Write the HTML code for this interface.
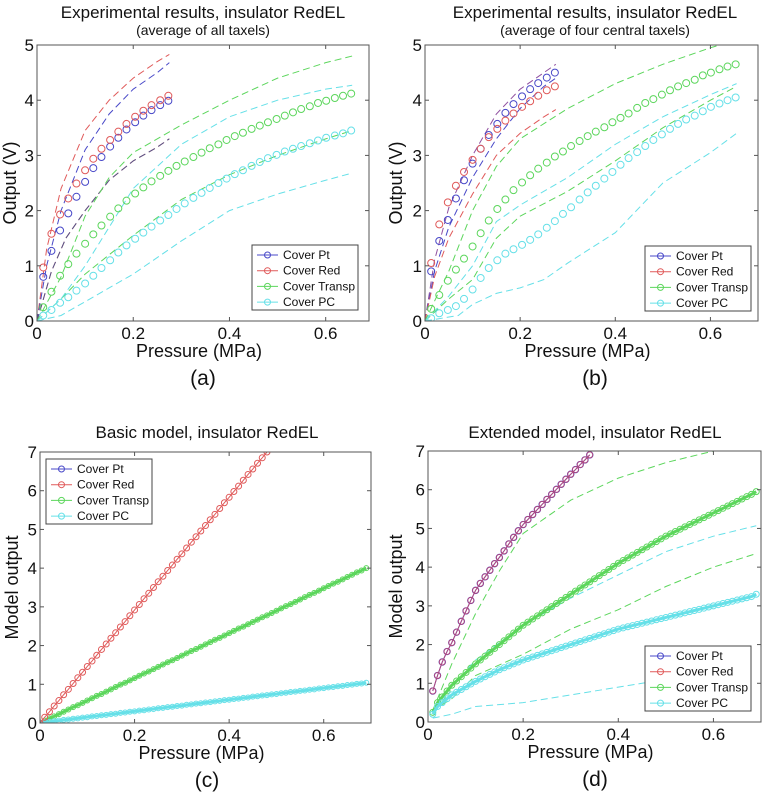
<!DOCTYPE html>
<html><head><meta charset="utf-8"><style>
body{margin:0;background:#fff;}
svg{display:block;font-family:"Liberation Sans",sans-serif;}
</style></head><body>
<svg id="fig" width="763" height="797" viewBox="0 0 763 797"></svg>
<script>
// ---------- data ----------
const abX = [0.013,0.03,0.048,0.065,0.082,0.1,0.117,0.134,0.152,0.169,0.186,0.204,0.221,0.238,0.256,0.273];
const abXLong = [0.013,0.03,0.048,0.065,0.082,0.1,0.117,0.134,0.152,0.169,0.186,0.204,0.221,0.238,0.256,0.273,0.29,0.307,0.325,0.342,0.359,0.377,0.394,0.411,0.428,0.446,0.463,0.48,0.498,0.515,0.532,0.549,0.567,0.584,0.601,0.619,0.636,0.653];
// panel a
const aPt = [0.8,1.27,1.64,1.95,2.25,2.52,2.77,2.97,3.16,3.32,3.47,3.6,3.72,3.82,3.91,3.99];
const aRed = [0.97,1.58,1.93,2.22,2.49,2.73,2.94,3.12,3.28,3.43,3.57,3.7,3.81,3.91,4.0,4.08];
const aGreen = [0.25,0.53,0.82,1.03,1.22,1.4,1.57,1.73,1.89,2.04,2.18,2.31,2.42,2.53,2.63,2.72,2.81,2.89,2.97,3.05,3.13,3.2,3.28,3.35,3.41,3.48,3.54,3.6,3.66,3.72,3.78,3.84,3.89,3.95,3.99,4.04,4.08,4.12];
const aCyan = [0.1,0.2,0.33,0.43,0.55,0.68,0.82,0.96,1.1,1.24,1.37,1.49,1.6,1.71,1.82,1.92,2.03,2.13,2.23,2.32,2.41,2.5,2.58,2.66,2.73,2.81,2.88,2.95,3.01,3.07,3.12,3.17,3.22,3.27,3.32,3.36,3.4,3.45];
const aDashRed = [[0,0],[0.02,1.3],[0.05,2.4],[0.1,3.45],[0.15,4.0],[0.2,4.4],[0.25,4.7],[0.275,4.83]];
const aDashBlue = [[0,0],[0.02,1.0],[0.05,2.0],[0.1,3.1],[0.15,3.75],[0.2,4.2],[0.25,4.5],[0.275,4.68]];
const aDashLow = [[0,0],[0.03,0.9],[0.06,1.5],[0.1,2.0],[0.15,2.55],[0.2,2.9],[0.25,3.15],[0.275,3.3]];
const aDashGreenUp = [[0,0],[0.05,0.8],[0.1,1.9],[0.15,2.6],[0.2,3.05],[0.3,3.55],[0.4,4.0],[0.5,4.4],[0.6,4.68],[0.655,4.8]];
const aDashGreenLo = [[0,0],[0.05,0.4],[0.1,0.85],[0.2,1.55],[0.3,2.2],[0.4,2.65],[0.5,3.0],[0.6,3.3],[0.655,3.45]];
const aDashCyanUp = [[0,0],[0.05,0.4],[0.1,1.0],[0.15,1.7],[0.2,2.4],[0.3,3.2],[0.4,3.7],[0.5,4.0],[0.6,4.2],[0.655,4.27]];
const aDashCyanLo = [[0,0],[0.05,0.1],[0.1,0.35],[0.2,0.85],[0.3,1.45],[0.4,2.0],[0.5,2.3],[0.6,2.55],[0.655,2.68]];
// panel b
const bPt = [0.9,1.45,1.83,2.22,2.55,2.85,3.12,3.37,3.57,3.77,3.93,4.07,4.2,4.31,4.41,4.5];
const bRed = [1.05,1.75,2.15,2.45,2.7,2.92,3.12,3.33,3.48,3.63,3.76,3.88,3.98,4.08,4.18,4.25];
const bGreen = [0.22,0.47,0.73,0.93,1.13,1.35,1.59,1.82,2.03,2.2,2.37,2.51,2.64,2.76,2.87,2.98,3.07,3.17,3.26,3.35,3.43,3.51,3.6,3.68,3.76,3.86,3.95,4.02,4.1,4.18,4.25,4.31,4.37,4.45,4.5,4.56,4.61,4.65];
const bCyan = [0.05,0.14,0.2,0.27,0.4,0.57,0.78,0.96,1.1,1.22,1.3,1.38,1.47,1.57,1.69,1.81,1.94,2.06,2.2,2.33,2.45,2.58,2.7,2.83,2.95,3.06,3.17,3.28,3.38,3.48,3.57,3.65,3.72,3.8,3.88,3.94,4.0,4.05];
const bDashPurple = [[0,0],[0.02,1.1],[0.05,2.05],[0.1,3.0],[0.15,3.75],[0.2,4.2],[0.25,4.5],[0.275,4.65]];
const bDashBlue = [[0,0],[0.02,0.9],[0.05,1.7],[0.1,2.6],[0.15,3.3],[0.2,3.85],[0.25,4.25],[0.275,4.4]];
const bDashRed = [[0,0],[0.02,0.8],[0.05,1.5],[0.1,2.3],[0.15,3.0],[0.2,3.4],[0.25,3.7],[0.275,3.83]];
const bDashGreenUp = [[0,0],[0.05,0.9],[0.1,2.0],[0.15,2.8],[0.2,3.3],[0.3,3.85],[0.4,4.3],[0.5,4.65],[0.6,4.95],[0.62,5.0]];
const bDashGreenLo = [[0,0],[0.05,0.4],[0.1,0.75],[0.15,1.5],[0.2,1.9],[0.3,2.35],[0.4,2.9],[0.5,3.5],[0.6,4.0],[0.655,4.25]];
const bDashCyanUp = [[0,0],[0.05,0.45],[0.1,1.0],[0.15,1.8],[0.2,2.1],[0.3,2.6],[0.4,3.2],[0.5,3.7],[0.6,4.1],[0.655,4.3]];
const bDashCyanLo = [[0,0],[0.07,0.1],[0.1,0.3],[0.15,0.5],[0.2,0.6],[0.25,0.75],[0.3,1.05],[0.4,1.6],[0.5,2.5],[0.6,3.05],[0.655,3.4]];
// panel c
const cX = [0,0.01,0.02,0.03,0.04,0.05,0.06,0.07,0.08,0.09,0.1,0.11,0.12,0.13,0.14,0.15,0.16,0.17,0.18,0.19,0.2,0.21,0.22,0.23,0.24,0.25,0.26,0.27,0.28,0.29,0.3,0.31,0.32,0.33,0.34,0.35,0.36,0.37,0.38,0.39,0.4,0.41,0.42,0.43,0.44,0.45,0.46,0.47,0.48,0.49,0.5,0.51,0.52,0.53,0.54,0.55,0.56,0.57,0.58,0.59,0.6,0.61,0.62,0.63,0.64,0.65,0.66,0.67,0.68,0.69];
const cRed = [0,0.15,0.29,0.44,0.58,0.73,0.87,1.02,1.17,1.31,1.46,1.6,1.75,1.9,2.04,2.19,2.33,2.48,2.62,2.77,2.92,3.06,3.21,3.35,3.5,3.65,3.79,3.94,4.08,4.23,4.37,4.52,4.67,4.81,4.96,5.1,5.25,5.39,5.54,5.69,5.83,5.98,6.12,6.27,6.42,6.56,6.71,6.85,7.0];
const cGreen = [0,0.06,0.12,0.17,0.23,0.29,0.35,0.41,0.46,0.52,0.58,0.64,0.7,0.75,0.81,0.87,0.93,0.99,1.04,1.1,1.16,1.22,1.28,1.33,1.39,1.45,1.51,1.57,1.62,1.68,1.74,1.8,1.86,1.91,1.97,2.03,2.09,2.15,2.2,2.26,2.32,2.38,2.44,2.49,2.55,2.61,2.67,2.73,2.78,2.84,2.9,2.96,3.02,3.07,3.13,3.19,3.25,3.31,3.36,3.42,3.48,3.54,3.6,3.65,3.71,3.77,3.83,3.89,3.94,4.0];
const cCyan = [0,0.02,0.03,0.05,0.06,0.08,0.09,0.11,0.12,0.14,0.15,0.17,0.18,0.2,0.21,0.23,0.24,0.26,0.27,0.29,0.3,0.32,0.33,0.35,0.36,0.38,0.39,0.41,0.42,0.44,0.45,0.47,0.48,0.5,0.51,0.53,0.54,0.56,0.57,0.59,0.6,0.62,0.63,0.65,0.66,0.68,0.69,0.71,0.72,0.74,0.75,0.77,0.78,0.8,0.81,0.83,0.84,0.86,0.87,0.89,0.9,0.92,0.93,0.95,0.96,0.98,0.99,1.01,1.02,1.04];
// panel d
const dX = [0.01,0.02,0.03,0.04,0.05,0.06,0.07,0.08,0.09,0.1,0.11,0.12,0.13,0.14,0.15,0.16,0.17,0.18,0.19,0.2,0.21,0.22,0.23,0.24,0.25,0.26,0.27,0.28,0.29,0.3,0.31,0.32,0.33,0.34,0.35,0.36,0.37,0.38,0.39,0.4,0.41,0.42,0.43,0.44,0.45,0.46,0.47,0.48,0.49,0.5,0.51,0.52,0.53,0.54,0.55,0.56,0.57,0.58,0.59,0.6,0.61,0.62,0.63,0.64,0.65,0.66,0.67,0.68,0.69];
const dRed = [0.8,1.2,1.55,1.82,2.05,2.32,2.6,2.87,3.14,3.4,3.58,3.75,3.92,4.09,4.25,4.42,4.6,4.77,4.94,5.1,5.23,5.36,5.49,5.62,5.75,5.88,6.01,6.14,6.27,6.4,6.52,6.65,6.77,6.9];
const dGreen = [0.25,0.5,0.65,0.8,0.95,1.06,1.17,1.28,1.39,1.5,1.6,1.7,1.8,1.9,2.0,2.1,2.2,2.3,2.4,2.5,2.58,2.66,2.74,2.82,2.9,2.98,3.06,3.14,3.22,3.3,3.38,3.46,3.54,3.62,3.7,3.78,3.86,3.94,4.02,4.1,4.17,4.24,4.31,4.38,4.45,4.52,4.59,4.66,4.73,4.8,4.86,4.92,4.98,5.04,5.1,5.16,5.22,5.28,5.34,5.4,5.46,5.52,5.58,5.64,5.7,5.76,5.82,5.88,5.95];
const dCyan = [0.2,0.4,0.5,0.6,0.7,0.77,0.84,0.91,0.98,1.05,1.11,1.17,1.23,1.29,1.35,1.4,1.45,1.5,1.55,1.6,1.64,1.68,1.72,1.76,1.8,1.84,1.88,1.92,1.96,2.0,2.04,2.08,2.12,2.16,2.2,2.24,2.28,2.32,2.36,2.4,2.43,2.46,2.49,2.52,2.55,2.58,2.61,2.64,2.67,2.7,2.73,2.76,2.79,2.82,2.85,2.88,2.91,2.94,2.97,3.0,3.03,3.06,3.09,3.12,3.15,3.18,3.21,3.24,3.3];
const dDashGreenUp = [[0.01,0.3],[0.05,1.5],[0.1,2.8],[0.15,3.9],[0.2,4.87],[0.3,5.73],[0.4,6.3],[0.5,6.7],[0.6,7.0]];
const dDashGreenLo = [[0.01,0.3],[0.05,0.6],[0.1,1.2],[0.2,1.75],[0.3,2.4],[0.4,2.9],[0.5,3.5],[0.6,4.0],[0.69,4.35]];
const dDashCyanUp = [[0.01,0.3],[0.05,0.9],[0.1,1.6],[0.2,2.5],[0.3,3.2],[0.4,3.8],[0.5,4.4],[0.6,4.8],[0.69,5.07]];
const dDashCyanLo = [[0.01,0.1],[0.05,0.2],[0.1,0.4],[0.2,0.5],[0.3,0.7],[0.4,0.9],[0.45,1.0],[0.5,1.1]];
const xTicks = [0,0.2,0.4,0.6];
const xTickLabels = ["0","0.2","0.4","0.6"];
const yTicksAB = [0,1,2,3,4,5];
const yTicksCD = [0,1,2,3,4,5,6,7];
const legendLabels = ["Cover Pt","Cover Red","Cover Transp","Cover PC"];
// ---------- rendering ----------
const BLUE="#4848c8", RED="#e05a5a", GREEN="#5cd65c", CYAN="#66e0e8";
const NS="http://www.w3.org/2000/svg";
const svg=document.getElementById('fig');
function mk(tag,attrs,parent){const e=document.createElementNS(NS,tag);for(const k in attrs)e.setAttribute(k,attrs[k]);(parent||svg).appendChild(e);return e;}
function panel(cfg){
  const g=mk('g',{});
  
  
  const sx=v=>cfg.x0+(v-0)/cfg.xmax*(cfg.x1-cfg.x0);
  const sy=v=>cfg.y0-(v/cfg.ymax)*(cfg.y0-cfg.y1);
  const clip='clip-'+cfg.name;
  const cp=mk('clipPath',{id:clip},g);mk('rect',{x:cfg.x0,y:cfg.y1,width:cfg.x1-cfg.x0,height:cfg.y0-cfg.y1},cp);
  const plot=mk('g',{'clip-path':'url(#'+clip+')'},g);
  
  
  cfg.dashes.forEach(d=>{
    const p=mk('polyline',{points:d.pts.map(q=>sx(q[0])+','+sy(q[1])).join(' '),fill:'none',stroke:d.c,'stroke-width':1,'stroke-dasharray':'7,4'},plot);
    
    
  });
  cfg.series.forEach(s=>{
    const sg=mk('g',{},plot);
    
    
    const pts=s.y.map((v,i)=>[sx(s.x[i]),sy(v)]);
    if(s.line) mk('polyline',{points:pts.map(p=>p.join(',')).join(' '),fill:'none',stroke:s.c,'stroke-width':s.lw||1},sg);
    pts.forEach(p=>{const c=mk('circle',{cx:p[0],cy:p[1],r:s.r||3.5,fill:'none',stroke:s.c,'stroke-width':1},sg);
      
      });
  });
  const frame=mk('rect',{x:cfg.x0,y:cfg.y1,width:cfg.x1-cfg.x0,height:cfg.y0-cfg.y1,fill:'none',stroke:'#555','stroke-width':1},g);
  
  
  xTicks.forEach((t,i)=>{
    mk('line',{x1:sx(t),x2:sx(t),y1:cfg.y0,y2:cfg.y0-4,stroke:'#555'},g);
    mk('line',{x1:sx(t),x2:sx(t),y1:cfg.y1,y2:cfg.y1+4,stroke:'#555'},g);
    const tx=mk('text',{x:sx(t),y:cfg.y0+18,'font-size':17,'text-anchor':'middle',fill:'#111'},g);tx.textContent=xTickLabels[i];
    
    
  });
  cfg.yt.forEach(t=>{
    mk('line',{x1:cfg.x0,x2:cfg.x0+4,y1:sy(t),y2:sy(t),stroke:'#555'},g);
    mk('line',{x1:cfg.x1,x2:cfg.x1-4,y1:sy(t),y2:sy(t),stroke:'#555'},g);
    const tx=mk('text',{x:cfg.x0-3,y:sy(t)+6,'font-size':17,'text-anchor':'end',fill:'#111'},g);tx.textContent=String(t);
    
    
  });
  const xl=mk('text',{x:(cfg.x0+cfg.x1)/2-4,y:cfg.y0+36,'font-size':18,'text-anchor':'middle',fill:'#111'},g);xl.textContent='Pressure (MPa)';
  
  
  const yl=mk('text',{x:0,y:0,'font-size':18,'text-anchor':'middle',fill:'#111',transform:`translate(${cfg.ylx},${(cfg.y0+cfg.y1)/2}) rotate(-90)`},g);yl.textContent=cfg.ylab;
  
  
  const ti=mk('text',{x:cfg.tx,y:cfg.ty,'font-size':17,'text-anchor':'middle',fill:'#111'},g);ti.textContent=cfg.title;
  
  
  if(cfg.sub){const st=mk('text',{x:cfg.tx,y:cfg.ty+17,'font-size':14,'text-anchor':'middle',fill:'#111'},g);st.textContent=cfg.sub;
    
    }
  const pl=mk('text',{x:cfg.tx,y:cfg.y0+64,'font-size':21,'text-anchor':'middle',fill:'#111'},g);pl.textContent=cfg.label;
  
  
  // legend
  const L=cfg.leg;
  const lg=mk('g',{},g);
  
  
  mk('rect',{x:L[0],y:L[1],width:106,height:65,fill:'#fff',stroke:'#444','stroke-width':1},lg);
  const cols=[BLUE,RED,GREEN,CYAN];
  legendLabels.forEach((lab,i)=>{
    const yy=L[1]+10+i*15.7;
    const e=mk('g',{},lg);
    
    
    mk('line',{x1:L[0]+5,x2:L[0]+26,y1:yy,y2:yy,stroke:cols[i],'stroke-width':1},e);
    mk('circle',{cx:L[0]+15.5,cy:yy,r:3,fill:'none',stroke:cols[i]},e);
    const t=mk('text',{x:L[0]+31,y:yy+4,'font-size':12,fill:'#111'},e);t.textContent=lab;
  });
}
panel({name:'panel-a',x0:37,x1:369,y0:321,y1:45,xmax:0.69,ymax:5,yt:yTicksAB,ylab:'Output (V)',ylx:16,title:'Experimental results, insulator RedEL',sub:'(average of all taxels)',tx:203,ty:18,label:'(a)',leg:[252,245],
  dashes:[{pts:aDashRed,c:RED},{pts:aDashBlue,c:BLUE},{pts:aDashLow,c:RED},{pts:aDashLow,c:'#55558a'},{pts:aDashGreenUp,c:GREEN},{pts:aDashGreenLo,c:GREEN},{pts:aDashCyanUp,c:CYAN},{pts:aDashCyanLo,c:CYAN}],
  series:[{n:'series-pt',x:abX,y:aPt,c:BLUE},{n:'series-red',x:abX,y:aRed,c:RED},{n:'series-transp',x:abXLong,y:aGreen,c:GREEN},{n:'series-pc',x:abXLong,y:aCyan,c:CYAN}]});
panel({name:'panel-b',x0:425,x1:758,y0:321,y1:45,xmax:0.70,ymax:5,yt:yTicksAB,ylab:'Output (V)',ylx:402,title:'Experimental results, insulator RedEL',sub:'(average of four central taxels)',tx:595,ty:18,label:'(b)',leg:[645,246],
  dashes:[{pts:bDashPurple,c:'#9050a0'},{pts:bDashBlue,c:BLUE},{pts:bDashRed,c:RED},{pts:bDashGreenUp,c:GREEN},{pts:bDashGreenLo,c:GREEN},{pts:bDashCyanUp,c:CYAN},{pts:bDashCyanLo,c:CYAN}],
  series:[{n:'series-pt',x:abX,y:bPt,c:BLUE},{n:'series-red',x:abX,y:bRed,c:RED},{n:'series-transp',x:abXLong,y:bGreen,c:GREEN},{n:'series-pc',x:abXLong,y:bCyan,c:CYAN}]});
panel({name:'panel-c',x0:40,x1:371,y0:723,y1:452,xmax:0.70,ymax:7,yt:yTicksCD,ylab:'Model output',ylx:18,title:'Basic model, insulator RedEL',tx:207,ty:438,label:'(c)',leg:[46,459],
  dashes:[],
  series:[{n:'series-transp',x:cX,y:cGreen,c:GREEN,line:true,lw:3,r:2.5},{n:'series-pc',x:cX,y:cCyan,c:CYAN,line:true,lw:3,r:2.5},{n:'series-red',x:cX,y:cRed,c:RED,line:true,r:3}]});
panel({name:'panel-d',x0:428,x1:761,y0:722,y1:451,xmax:0.70,ymax:7,yt:yTicksCD,ylab:'Model output',ylx:402,title:'Extended model, insulator RedEL',tx:595,ty:438,label:'(d)',leg:[645,646],
  dashes:[{pts:dDashGreenUp,c:GREEN},{pts:dDashGreenLo,c:GREEN},{pts:dDashCyanUp,c:CYAN},{pts:dDashCyanLo,c:CYAN}],
  series:[{n:'series-transp',x:dX,y:dGreen,c:GREEN,line:true,lw:3,r:3},{n:'series-pc',x:dX,y:dCyan,c:CYAN,line:true,lw:3,r:3},{n:'series-pt',x:dX,y:dRed,c:BLUE,line:true,r:3.2},{n:'series-red',x:dX,y:dRed,c:'#b04a80',line:true,r:3}]});
</script>
</body></html>
